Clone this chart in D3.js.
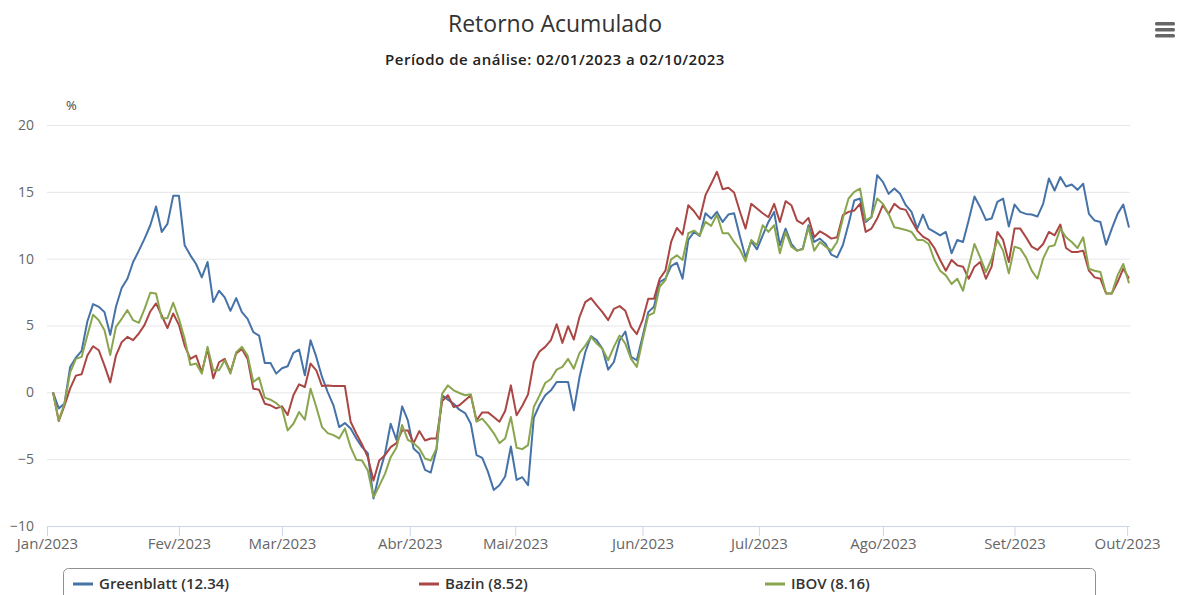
<!DOCTYPE html>
<html>
<head>
<meta charset="utf-8">
<script src="https://cdn.jsdelivr.net/npm/d3@7"></script>
<style>
  body { margin: 0; background: #fff; }
  text { font-family: "Open Sans", "Noto Sans", sans-serif; }
</style>
</head>
<body>
<div class="canvas"></div>
<script>
// cumulative returns (%), one value per trading day, 02/01/2023 .. 02/10/2023
const greenblatt = [
  0, -1.2, -0.85, 1.9, 2.6, 3.1, 5.3, 6.6, 6.4, 6.0, 4.3, 6.4, 7.8, 8.5, 9.75, 10.6, 11.5, 12.5, 13.9, 12.0,
  12.6, 14.7, 14.7, 11.0, 10.25, 9.6, 8.6, 9.75, 6.75, 7.6, 7.1, 6.1, 7.05, 6.0, 5.5, 4.5, 4.25, 2.2, 2.2, 1.4,
  1.8, 1.95, 2.95, 3.2, 1.27, 3.9, 2.65, 1.15, 0.02, -0.97, -2.6, -2.3, -2.7, -3.45, -4.1, -4.55, -7.95, -6.1, -4.6, -2.35,
  -3.55, -1.05, -2.1, -4.2, -4.6, -5.8, -6.0, -4.3, -0.22, -0.55, -0.85, -1.3, -1.55, -2.35, -4.7, -4.9, -5.95, -7.3, -6.95, -6.3,
  -4.05, -6.55, -6.35, -6.95, -1.9, -0.95, -0.22, 0.15, 0.77, 0.77, 0.77, -1.35, 1.15, 3.0, 4.2, 3.9, 3.25, 1.7, 2.27, 3.9,
  4.55, 2.65, 2.4, 4.15, 6.0, 6.4, 8.25, 8.5, 9.45, 9.7, 8.5, 11.4, 12.0, 11.7, 13.4, 13.0, 13.5, 12.75, 13.3, 13.4,
  11.7, 10.1, 11.3, 10.7, 11.75, 12.75, 13.5, 11.0, 12.25, 11.1, 10.6, 10.75, 12.5, 11.25, 11.5, 11.1, 10.3, 10.1, 11.0, 12.6,
  14.35, 14.5, 12.75, 13.1, 16.25, 15.75, 14.85, 15.25, 14.85, 14.0, 13.5, 12.25, 13.3, 12.25, 12.0, 11.75, 12.0, 10.4, 11.4, 11.25,
  12.9, 14.65, 13.85, 12.9, 13.0, 14.25, 14.5, 12.4, 14.05, 13.5, 13.35, 13.3, 13.15, 14.1, 16.0, 15.1, 16.1, 15.4, 15.55, 15.15,
  15.6, 13.35, 12.85, 12.75, 11.05, 12.25, 13.35, 14.05, 12.34
]

const bazin = [
  0, -2.15, -1.0, 0.3, 1.25, 1.35, 2.75, 3.45, 3.15, 2.0, 0.75, 2.75, 3.75, 4.15, 3.9, 4.4, 5.05, 6.05, 6.65, 5.75,
  4.8, 5.9, 5.05, 3.5, 2.5, 2.75, 1.5, 3.25, 1.05, 2.25, 2.5, 1.5, 2.9, 3.25, 2.5, 0.27, 0.2, -0.85, -0.97, -1.2,
  -1.05, -1.7, -0.22, 0.6, 0.4, 2.15, 1.65, 0.47, 0.52, 0.47, 0.47, 0.47, -2.2, -3.1, -3.9, -4.85, -6.6, -5.1, -4.7, -4.1,
  -3.8, -2.85, -2.85, -3.8, -2.9, -3.6, -3.45, -3.45, -0.65, -0.22, -1.1, -0.97, -0.6, -0.22, -2.1, -1.5, -1.5, -1.85, -2.2, -1.4,
  0.52, -1.72, -1.0, -0.15, 2.27, 3.05, 3.4, 3.9, 5.1, 3.7, 4.95, 3.95, 5.65, 6.75, 7.05, 6.5, 6.0, 5.4, 6.25, 6.45,
  6.1, 4.9, 4.35, 5.4, 7.0, 7.0, 8.5, 9.1, 11.25, 12.3, 11.8, 14.0, 13.55, 12.95, 14.75, 15.6, 16.5, 15.2, 15.3, 14.95,
  13.55, 12.25, 14.1, 13.75, 13.4, 13.1, 14.1, 12.75, 14.3, 14.0, 12.85, 12.6, 13.05, 11.6, 12.05, 11.8, 11.5, 11.6, 13.25, 13.5,
  13.6, 14.1, 12.0, 12.25, 13.0, 14.0, 13.35, 14.1, 13.75, 13.65, 12.85, 12.1, 11.65, 11.4, 10.8, 9.9, 9.1, 9.9, 9.5, 9.4,
  8.5, 9.4, 9.75, 8.5, 9.4, 12.0, 11.4, 9.75, 12.25, 12.25, 11.6, 10.9, 10.65, 11.1, 12.0, 11.75, 12.55, 10.8, 10.5, 10.5,
  10.6, 9.1, 8.6, 8.5, 7.4, 7.4, 8.25, 9.25, 8.52
]

const ibov = [
  0, -2.1, -0.85, 1.5, 2.5, 2.65, 4.25, 5.8, 5.4, 4.65, 2.8, 4.9, 5.5, 6.15, 5.4, 5.2, 6.25, 7.45, 7.4, 5.55,
  5.55, 6.7, 5.5, 4.0, 2.05, 2.15, 1.4, 3.4, 1.65, 1.65, 2.4, 1.4, 3.0, 3.4, 2.75, 0.77, 1.1, -0.4, -0.55, -0.8,
  -1.2, -2.85, -2.35, -1.47, -2.05, 0.27, -1.1, -2.6, -3.05, -3.2, -3.45, -2.7, -4.1, -5.05, -5.1, -5.85, -7.85, -7.0, -6.1, -4.85,
  -4.15, -2.45, -3.55, -3.8, -4.2, -4.95, -5.1, -4.2, -0.1, 0.52, 0.15, -0.05, -0.22, -0.15, -2.2, -1.97, -2.47, -3.05, -3.8, -3.45,
  -1.85, -4.15, -4.25, -3.95, -1.1, -0.25, 0.7, 1.0, 1.7, 1.9, 2.5, 1.77, 2.95, 3.5, 4.15, 3.65, 3.25, 2.4, 3.4, 4.25,
  3.65, 2.5, 1.9, 3.9, 5.75, 5.95, 7.9, 8.4, 9.95, 10.25, 9.9, 11.9, 12.1, 11.75, 12.75, 12.45, 13.3, 11.9, 11.9, 11.25,
  10.7, 9.8, 11.4, 11.0, 12.5, 12.0, 12.5, 10.4, 12.0, 10.9, 10.6, 10.7, 12.35, 10.6, 11.25, 10.9, 10.6, 11.25, 13.0, 14.5,
  15.0, 15.25, 12.85, 13.1, 14.5, 14.1, 13.35, 12.35, 12.25, 12.15, 12.0, 11.4, 11.4, 11.1, 9.9, 9.1, 8.75, 8.1, 8.5, 7.6,
  9.4, 11.1, 10.1, 9.0, 10.0, 11.4, 10.6, 8.9, 10.9, 10.75, 10.1, 9.1, 8.5, 10.0, 10.9, 11.0, 12.25, 11.6, 11.25, 10.8,
  11.6, 9.25, 9.1, 9.0, 7.4, 7.4, 8.75, 9.6, 8.16
]

const seriesNames = ['Greenblatt (12.34)', 'Bazin (8.52)', 'IBOV (8.16)']
const seriesColors = ['#4572A7', '#AA4643', '#89A54E']

// month labels and their place on the trading-day axis (1st of month, between sessions when it is a holiday/weekend)
const monthLabels = ['Jan/2023', 'Fev/2023', 'Mar/2023', 'Abr/2023', 'Mai/2023', 'Jun/2023', 'Jul/2023', 'Ago/2023', 'Set/2023', 'Out/2023']
const monthPos = [-1.05, 22, 40, 62.33, 80.75, 103, 123.33, 145, 168, 187.67]
const yTicks = [-10, -5, 0, 5, 10, 15, 20]

const width = 1188
const height = 595
const margin = {top: 125, left: 47, right: 59, bottom: 69}
const graphWidth = width - margin.left - margin.right
const graphHeight = height - margin.top - margin.bottom

const svg = d3.select('.canvas')
    .append('svg')
    .attr('width', width)
    .attr('height', height)

// title
svg.append('text')
    .attr('x', 555).attr('y', 32)
    .attr('text-anchor', 'middle')
    .attr('font-size', 23)
    .attr('fill', '#333')
    .text('Retorno Acumulado')

svg.append('text')
    .attr('x', 555).attr('y', 65)
    .attr('text-anchor', 'middle')
    .attr('font-size', 15)
    .attr('font-weight', 600)
    .attr('letter-spacing', 0.5)
    .attr('fill', '#222')
    .text('Período de análise: 02/01/2023 a 02/10/2023')

// menu button
const menu = svg.append('g').attr('transform', 'translate(1155, 22)')
;[0, 6, 12].forEach(dy => {
    menu.append('rect')
        .attr('x', 0).attr('y', dy)
        .attr('width', 20).attr('height', 3.5)
        .attr('rx', 1.5)
        .attr('fill', '#666')
})

const graph = svg.append('g')
    .attr('transform', `translate(${margin.left}, ${margin.top})`)

const x = d3.scaleLinear()
    .domain([-1.05, 188])
    .range([0, graphWidth])

const y = d3.scaleLinear()
    .domain([-10, 20])
    .range([graphHeight, 0])

// y axis + gridlines
const yAxis = d3.axisLeft(y)
    .tickValues(yTicks)
    .tickSize(-graphWidth - 1)
    .tickPadding(13)

const yAxisGroup = graph.append('g').call(yAxis)
yAxisGroup.select('.domain').remove()
yAxisGroup.selectAll('line').attr('stroke', '#e6e6e6')
yAxisGroup.selectAll('text')
    .attr('fill', '#666')
    .attr('font-size', 14)

graph.append('text')
    .attr('x', 19).attr('y', -15)
    .attr('font-size', 13)
    .attr('fill', '#444')
    .text('%')

// x axis
const xAxis = d3.axisBottom(x)
    .tickValues(monthPos)
    .tickFormat((d, i) => monthLabels[i])
    .tickSize(10)
    .tickSizeOuter(0)
    .tickPadding(2)

const xAxisGroup = graph.append('g')
    .attr('transform', `translate(0, ${graphHeight})`)
    .call(xAxis)
xAxisGroup.select('.domain').attr('stroke', '#ccd6eb')
xAxisGroup.selectAll('line').attr('stroke', '#ccd6eb')
xAxisGroup.selectAll('text')
    .attr('fill', '#666')
    .attr('font-size', 15)

// lines
const line = d3.line()
    .x((d, i) => x(i))
    .y(d => y(d))

;[greenblatt, bazin, ibov].forEach((data, k) => {
    graph.append('path')
        .datum(data)
        .attr('fill', 'none')
        .attr('stroke', seriesColors[k])
        .attr('stroke-width', 2)
        .attr('stroke-linejoin', 'round')
        .attr('d', line)
})

// legend
const legend = svg.append('g')
legend.append('rect')
    .attr('x', 63.5).attr('y', 568.5)
    .attr('width', 1032).attr('height', 40)
    .attr('rx', 5)
    .attr('fill', 'none')
    .attr('stroke', '#909090')

const legendX = [73, 419, 765]
seriesNames.forEach((name, k) => {
    legend.append('line')
        .attr('x1', legendX[k]).attr('x2', legendX[k] + 20)
        .attr('y1', 584).attr('y2', 584)
        .attr('stroke', seriesColors[k])
        .attr('stroke-width', 3)
    legend.append('text')
        .attr('x', legendX[k] + 26).attr('y', 589)
        .attr('font-size', 15)
        .attr('font-weight', 600)
        .attr('fill', '#333')
        .text(name)
})
</script>
</body>
</html>
